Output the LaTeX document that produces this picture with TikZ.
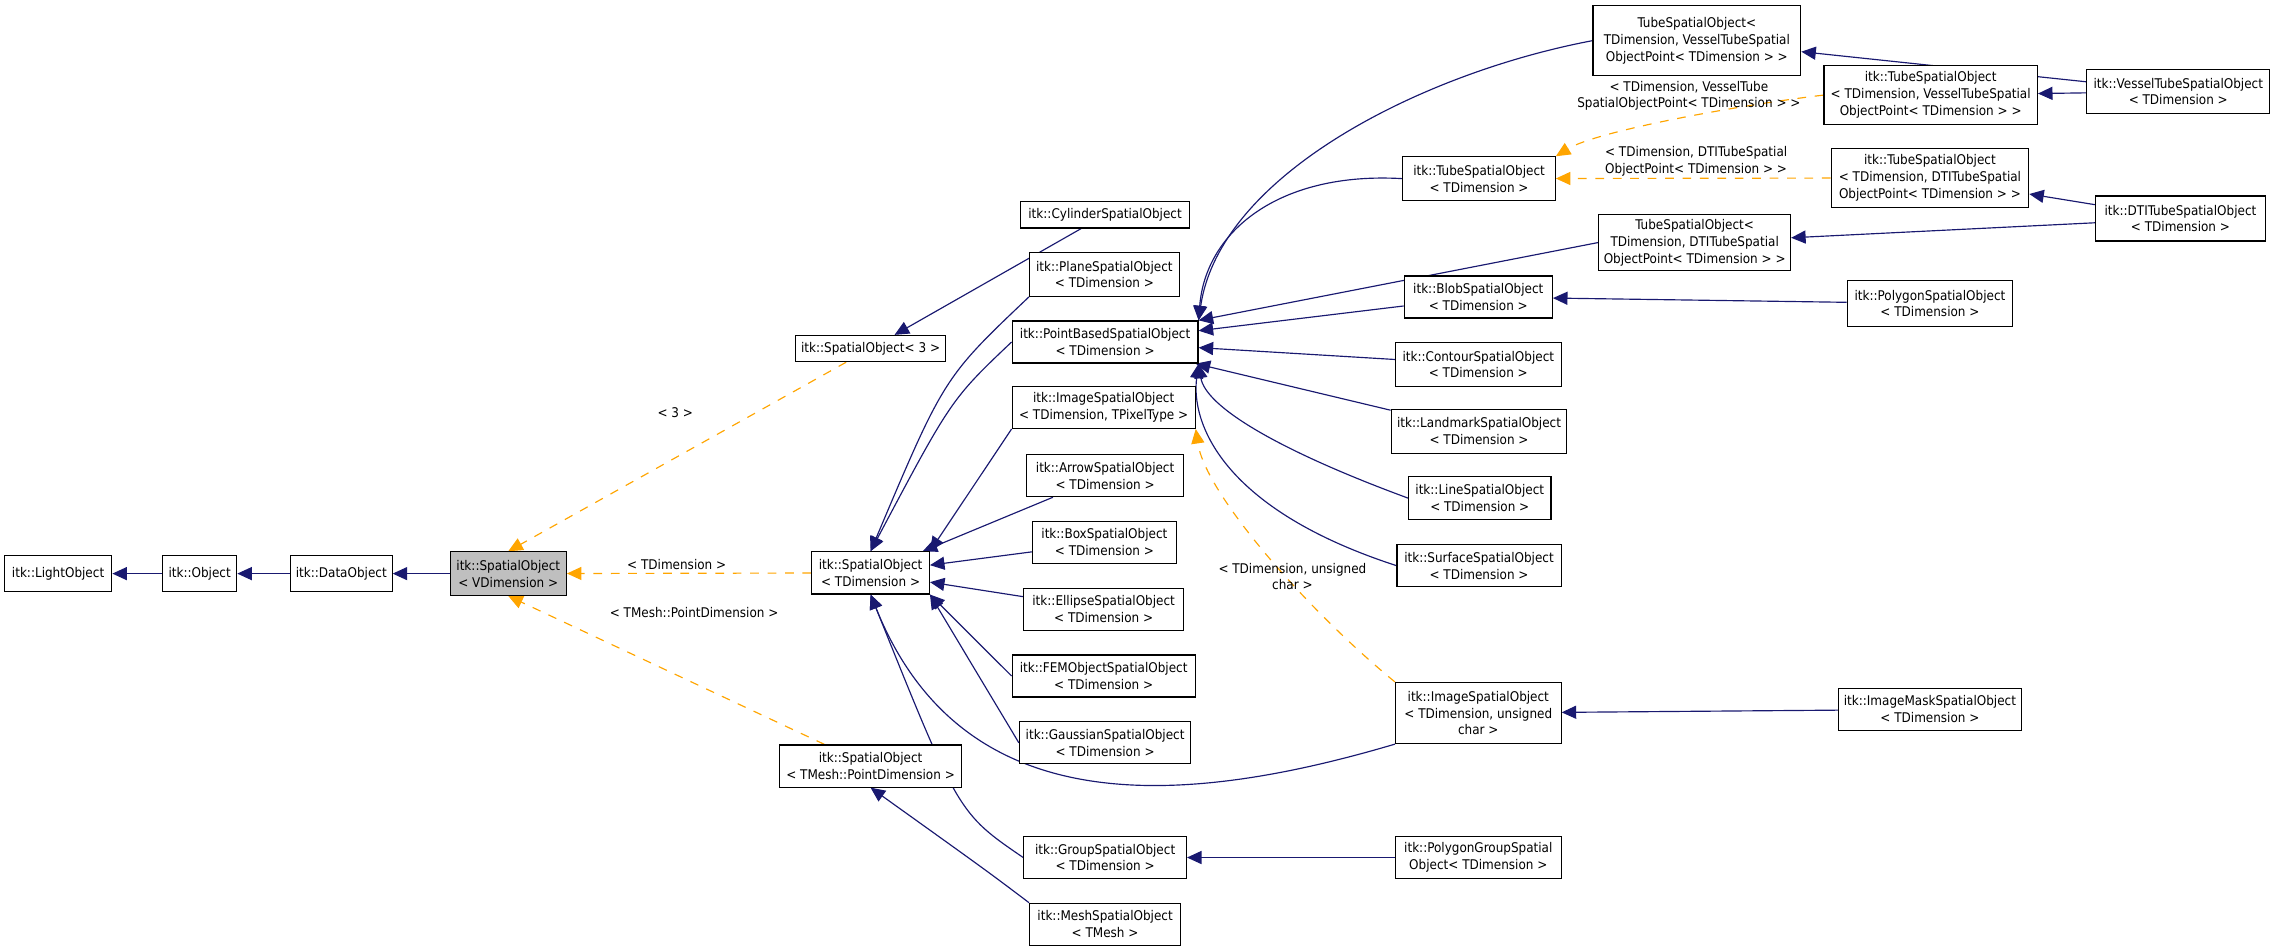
\documentclass[tikz,border=0pt]{standalone}
\usepackage{fontspec}
\setmainfont{DejaVu Sans Condensed}
\usetikzlibrary{arrows.meta,positioning,backgrounds}
\definecolor{navy}{RGB}{25,25,112}
\definecolor{tmpl}{RGB}{255,165,0}
\tikzset{
  cls/.style={draw, fill=white, align=center, inner sep=1pt,
    font=\fontsize{4.6}{5.8}\selectfont},
  base/.style={cls, fill=black!25},
  inh/.style={navy, -{Triangle[length=5pt,width=4.5pt]}},
  tpl/.style={tmpl, dashed, -{Triangle[length=5pt,width=4.5pt]}},
  lbl/.style={text=black, font=\fontsize{4.6}{5.8}\selectfont, align=center}
}
\begin{document}
\begin{tikzpicture}[x=0.5pt, y=-0.5pt]
\useasboundingbox (0,0) rectangle (1568,655);
% left chain
\node[cls, minimum width=37pt, minimum height=12.5pt] (light) at (40,395) {itk::LightObject};
\node[cls, minimum width=25.5pt, minimum height=12.5pt] (obj) at (137.5,395) {itk::Object};
\node[cls, minimum width=35pt, minimum height=12.5pt] (data) at (235,395) {itk::DataObject};
\node[base, minimum width=40pt, minimum height=15pt] (soV) at (350,395) {itk::SpatialObject\\< VDimension >};

% templates of the spatial object
\node[cls, minimum width=51.5pt, minimum height=9pt] (so3) at (599.5,240) {itk::SpatialObject< 3 >};
\node[cls, minimum width=40.5pt, minimum height=14.5pt] (soT) at (599.5,394.5) {itk::SpatialObject\\< TDimension >};
\node[cls, minimum width=62.5pt, minimum height=14.5pt] (soM) at (599.5,527.5) {itk::SpatialObject\\< TMesh::PointDimension >};

% middle column
\node[cls, minimum width=58pt, minimum height=9pt] (cyl) at (761,148) {itk::CylinderSpatialObject};
\node[cls, minimum width=51.5pt, minimum height=15pt] (plane) at (760.5,189) {itk::PlaneSpatialObject\\< TDimension >};
\node[cls, minimum width=64pt, minimum height=14.5pt] (pbso) at (761,235.5) {itk::PointBasedSpatialObject\\< TDimension >};
\node[cls, minimum width=63pt, minimum height=14.5pt] (imgP) at (760,280.5) {itk::ImageSpatialObject\\< TDimension, TPixelType >};
\node[cls, minimum width=54pt, minimum height=14.5pt] (arrow) at (761,327.5) {itk::ArrowSpatialObject\\< TDimension >};
\node[cls, minimum width=49.5pt, minimum height=14.5pt] (box) at (760.5,373.5) {itk::BoxSpatialObject\\< TDimension >};
\node[cls, minimum width=55pt, minimum height=14.5pt] (ell) at (760,419.5) {itk::EllipseSpatialObject\\< TDimension >};
\node[cls, minimum width=63pt, minimum height=14.5pt] (fem) at (760,465.5) {itk::FEMObjectSpatialObject\\< TDimension >};
\node[cls, minimum width=59pt, minimum height=14.5pt] (gauss) at (761,511.5) {itk::GaussianSpatialObject\\< TDimension >};
\node[cls, minimum width=56pt, minimum height=14.5pt] (group) at (761,590.5) {itk::GroupSpatialObject\\< TDimension >};
\node[cls, minimum width=52pt, minimum height=14.5pt] (mesh) at (761,636.5) {itk::MeshSpatialObject\\< TMesh >};

% right column
\node[cls, minimum width=71.5pt, minimum height=24pt] (tubeV) at (1168.5,28) {TubeSpatialObject<\\TDimension, VesselTubeSpatial\\ObjectPoint< TDimension > >};
\node[cls, minimum width=52.5pt, minimum height=15pt] (tube) at (1018.5,123) {itk::TubeSpatialObject\\< TDimension >};
\node[cls, minimum width=66pt, minimum height=19.5pt] (tubeD) at (1167,167) {TubeSpatialObject<\\TDimension, DTITubeSpatial\\ObjectPoint< TDimension > >};
\node[cls, minimum width=51pt, minimum height=14.5pt] (blob) at (1018,204.5) {itk::BlobSpatialObject\\< TDimension >};
\node[cls, minimum width=57pt, minimum height=15pt] (cont) at (1018,251) {itk::ContourSpatialObject\\< TDimension >};
\node[cls, minimum width=60.5pt, minimum height=15pt] (land) at (1018.5,297) {itk::LandmarkSpatialObject\\< TDimension >};
\node[cls, minimum width=49pt, minimum height=15pt] (line) at (1019,343) {itk::LineSpatialObject\\< TDimension >};
\node[cls, minimum width=56.5pt, minimum height=14.5pt] (surf) at (1018.5,389.5) {itk::SurfaceSpatialObject\\< TDimension >};
\node[cls, minimum width=57pt, minimum height=21pt] (imgC) at (1018,491) {itk::ImageSpatialObject\\< TDimension, unsigned\\char >};
\node[cls, minimum width=57pt, minimum height=14.5pt] (pgroup) at (1018,590.5) {itk::PolygonGroupSpatial\\Object< TDimension >};

% far right
\node[cls, minimum width=73.5pt, minimum height=20.5pt] (itubeV) at (1329.5,65.5) {itk::TubeSpatialObject\\< TDimension, VesselTubeSpatial\\ObjectPoint< TDimension > >};
\node[cls, minimum width=63pt, minimum height=15pt] (vessel) at (1500,63) {itk::VesselTubeSpatialObject\\< TDimension >};
\node[cls, minimum width=68pt, minimum height=20.5pt] (itubeD) at (1329,122.5) {itk::TubeSpatialObject\\< TDimension, DTITubeSpatial\\ObjectPoint< TDimension > >};
\node[cls, minimum width=58.5pt, minimum height=15.5pt] (dti) at (1501.5,150.5) {itk::DTITubeSpatialObject\\< TDimension >};
\node[cls, minimum width=57pt, minimum height=16pt] (poly) at (1329,209) {itk::PolygonSpatialObject\\< TDimension >};
\node[cls, minimum width=63pt, minimum height=14.5pt] (mask) at (1329,488.5) {itk::ImageMaskSpatialObject\\< TDimension >};

% edge labels
\node[lbl] (l3) at (465,284) {< 3 >};
\node[lbl] (lT) at (466,389) {< TDimension >};
\node[lbl] (lM) at (478,422) {< TMesh::PointDimension >};
\node[lbl] (lC) at (890,397) {< TDimension, unsigned\\char >};
\node[lbl] (lV) at (1163,66) {< TDimension, VesselTube\\SpatialObjectPoint< TDimension > >};
\node[lbl] (lD) at (1168,111) {< TDimension, DTITubeSpatial\\ObjectPoint< TDimension > >};

% inheritance
\begin{scope}[on background layer]
\draw[inh] (obj) -- (light);
\draw[inh] (data) -- (obj);
\draw[inh] (soV) -- (data);
\draw[tpl] (so3) -- (soV.north);
\draw[tpl] (soT) -- (soV);
\draw[tpl] (soM) -- (soV.south);
\draw[inh] (cyl) -- (so3);
\draw[inh] (plane.south west) .. controls (650,260) .. (soT.north);
\draw[inh] (pbso.west) .. controls (655,275) .. (soT.north);
\draw[inh] (imgP.south west) -- (soT.north east);
\draw[inh] (arrow) -- (soT);
\draw[inh] (box) -- (soT);
\draw[inh] (ell) -- (soT);
\draw[inh] (fem.west) -- (soT.south east);
\draw[inh] (gauss.west) -- (soT.south east);
\draw[inh] (group.west) .. controls (660,560) .. (soT.south);
\draw[inh] (imgC.south west) .. controls (800,560) and (660,560) .. (soT.south);
\draw[inh] (mesh.north west) .. controls (680,600) .. (soM.south);
\draw[inh] (tubeV.west) .. controls (980,50) and (840,120) .. (pbso.north east);
\draw[inh] (tube.west) .. controls (880,118) and (830,160) .. (pbso.north east);
\draw[inh] (tubeD.west) -- (pbso.north east);
\draw[inh] (blob) -- (pbso);
\draw[inh] (cont) -- (pbso);
\draw[inh] (land) -- (pbso);
\draw[inh] (line.west) .. controls (880,310) and (830,280) .. (pbso.south east);
\draw[inh] (surf.west) .. controls (840,350) and (820,290) .. (pbso.south east);
\draw[tpl] (imgC.north west) .. controls (900,420) and (830,340) .. (imgP.south east);
\draw[tpl] (itubeV.west) .. controls (1200,72) and (1100,90) .. (tube.north east);
\draw[tpl] (itubeD) -- (tube);
\draw[inh] (vessel) -- (tubeV);
\draw[inh] (vessel) -- (itubeV);
\draw[inh] (dti) -- (itubeD);
\draw[inh] (dti) -- (tubeD);
\draw[inh] (poly) -- (blob);
\draw[inh] (mask) -- (imgC);
\draw[inh] (pgroup) -- (group);
\end{scope}
\end{tikzpicture}
\end{document}
